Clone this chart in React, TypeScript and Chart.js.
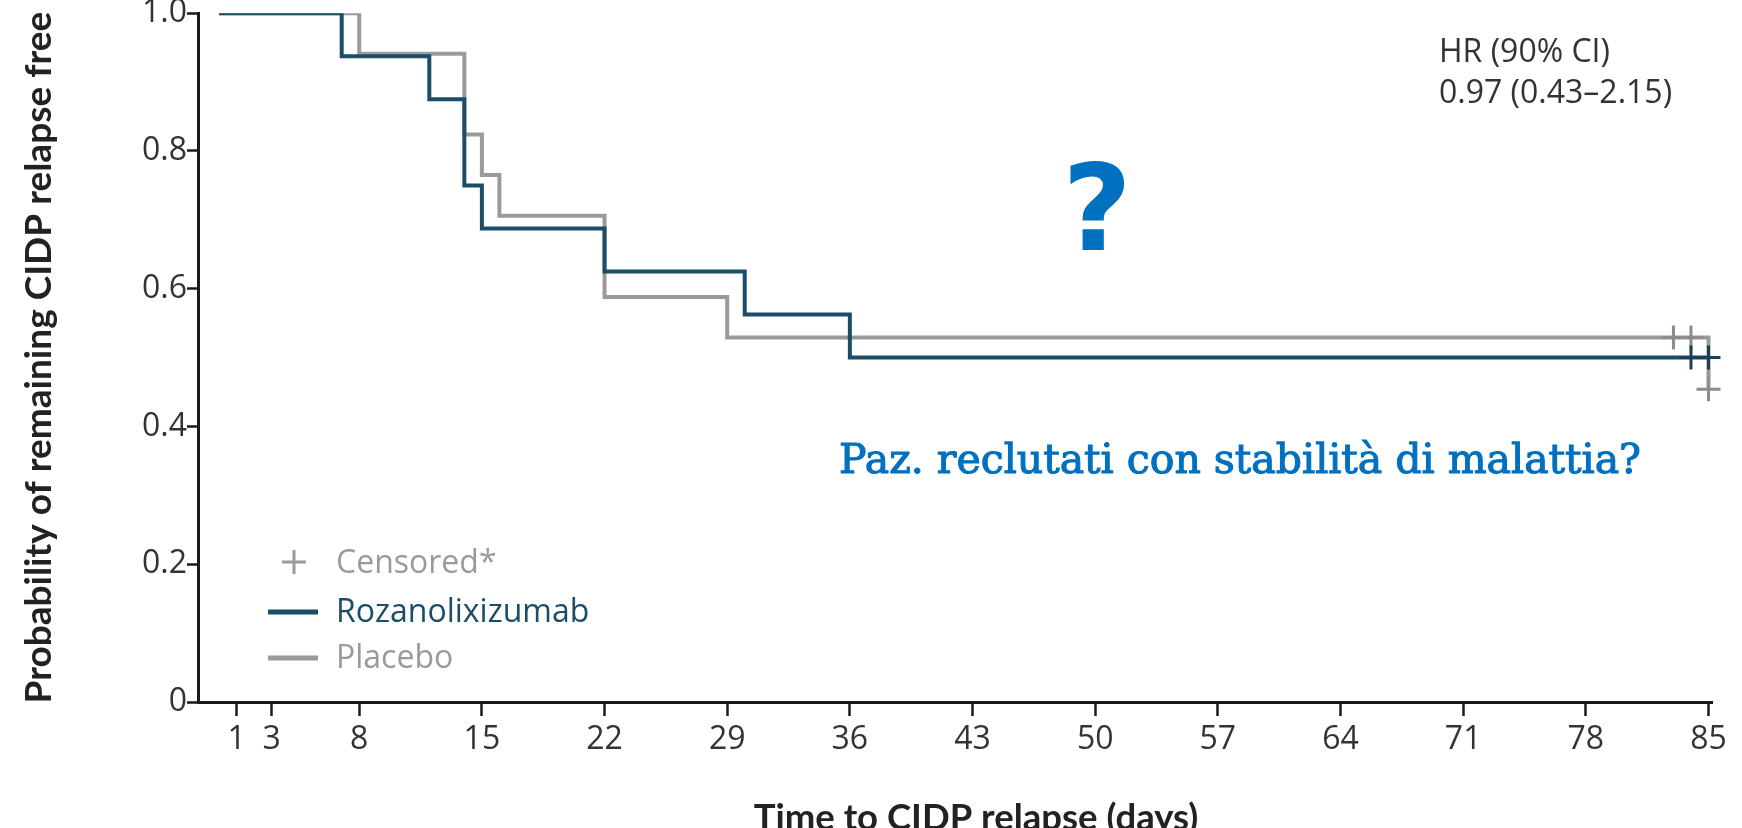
import React, { useEffect, useRef } from "react";
import { Chart, registerables } from "chart.js";

Chart.register(...registerables);

// ---- data ----
const xTickValues = [1, 3, 8, 15, 22, 29, 36, 43, 50, 57, 64, 71, 78, 85];
const yTickValues = [0, 0.2, 0.4, 0.6, 0.8, 1.0];

const rozaTimes = [0, 7, 12, 14, 15, 22, 30, 36, 85];
const rozaSurvival = [1, 0.9375, 0.875, 0.75, 0.6875, 0.625, 0.5625, 0.5, 0.5];
const placeboTimes = [0, 8, 14, 15, 16, 22, 29, 85];
const placeboSurvival = [1, 0.941, 0.824, 0.765, 0.706, 0.588, 0.529, 0.454];

const rozaCensorTimes = [84, 85];
const rozaCensorSurvival = [0.5, 0.5];
const placeboCensorTimes = [83, 84, 85];
const placeboCensorSurvival = [0.529, 0.529, 0.454];

const legendLabels = ["Censored*", "Rozanolixizumab", "Placebo"];
const hrLines = ["HR (90% CI)", "0.97 (0.43\u20132.15)"];
const questionText = "?";
const noteText = "Paz. reclutati con stabilit\u00e0 di malattia?";
const xTitle = "Time to CIDP relapse (days)";
const yTitle = "Probability of remaining CIDP relapse free";

// ---- styles ----
const ROZA = "#1b4d68";
const ROZA_CROSS = "#1d3f55";
const PLACEBO = "#9a9a9a";
const PLACEBO_CROSS = "#8c8c8c";
const AXIS = "#1a1a1a";
const TEXT = "#333333";
const BLUE = "#0070c0";
const SANS = "'Open Sans', sans-serif";
const TITLE_FONT = "Lato, sans-serif";

const W = 1742;
const H = 870;
const OFF = 6; // canvas y = page y + OFF
const AXIS_Y = 702; // page y of the x axis

const pts = (xs: number[], ys: number[]) => xs.map((x, i) => ({ x, y: ys[i] }));

const overlayPlugin = {
  id: "overlay",
  afterDraw(chart: any) {
    const ctx = chart.ctx;
    ctx.save();
    // Legend
    ctx.strokeStyle = PLACEBO;
    ctx.lineWidth = 3;
    ctx.beginPath();
    ctx.moveTo(282, 562 + OFF);
    ctx.lineTo(306, 562 + OFF);
    ctx.moveTo(294, 550 + OFF);
    ctx.lineTo(294, 574 + OFF);
    ctx.stroke();

    ctx.lineWidth = 5;
    ctx.strokeStyle = ROZA;
    ctx.beginPath();
    ctx.moveTo(268, 612 + OFF);
    ctx.lineTo(318, 612 + OFF);
    ctx.stroke();
    ctx.strokeStyle = PLACEBO;
    ctx.beginPath();
    ctx.moveTo(268, 658 + OFF);
    ctx.lineTo(318, 658 + OFF);
    ctx.stroke();

    ctx.font = `32px ${SANS}`;
    ctx.textAlign = "left";
    ctx.textBaseline = "alphabetic";
    ctx.fillStyle = PLACEBO;
    ctx.fillText(legendLabels[0], 336, 573 + OFF);
    ctx.fillStyle = ROZA;
    ctx.fillText(legendLabels[1], 336, 622 + OFF);
    ctx.fillStyle = PLACEBO;
    ctx.fillText(legendLabels[2], 336, 668 + OFF);

    // HR text
    ctx.fillStyle = TEXT;
    ctx.font = `32px ${SANS}`;
    ctx.fillText(hrLines[0], 1439, 62 + OFF);
    ctx.fillText(hrLines[1], 1439, 103 + OFF);

    // Question mark
    ctx.fillStyle = BLUE;
    ctx.font = `bold 120px 'DejaVu Sans', sans-serif`;
    ctx.textAlign = "center";
    ctx.fillText(questionText, 1097, 250 + OFF);

    // Note (slightly emboldened slab serif)
    ctx.font = `41px 'DejaVu Serif', serif`;
    ctx.textAlign = "left";
    ctx.strokeStyle = BLUE;
    ctx.lineWidth = 1.1;
    ctx.fillText(noteText, 839, 473 + OFF);
    ctx.strokeText(noteText, 839, 473 + OFF);

    // X title
    ctx.fillStyle = "#222";
    ctx.font = `bold 36.5px ${TITLE_FONT}`;
    ctx.textAlign = "center";
    ctx.fillText(xTitle, 976, 830 + OFF);
    ctx.restore();
  },
};

export default function App() {
  const ref = useRef<HTMLCanvasElement | null>(null);

  useEffect(() => {
    if (!ref.current) return;
    const chart = new Chart(ref.current, {
      type: "line",
      data: {
        datasets: [
          {
            label: "Rozanolixizumab censored",
            data: pts(rozaCensorTimes, rozaCensorSurvival),
            showLine: false,
            pointStyle: "cross",
            pointRadius: 12,
            pointBorderWidth: 3,
            pointBorderColor: ROZA_CROSS,
            borderColor: ROZA_CROSS,
            clip: false,
          } as any,
          {
            label: "Rozanolixizumab",
            data: pts(rozaTimes, rozaSurvival),
            stepped: "before",
            borderColor: ROZA,
            borderWidth: 4,
            borderJoinStyle: "miter",
            pointRadius: 0,
            fill: false,
          },
          {
            label: "Placebo censored",
            data: pts(placeboCensorTimes, placeboCensorSurvival),
            showLine: false,
            pointStyle: "cross",
            pointRadius: 12,
            pointBorderWidth: 3,
            pointBorderColor: PLACEBO_CROSS,
            borderColor: PLACEBO_CROSS,
            clip: false,
          } as any,
          {
            label: "Placebo",
            data: pts(placeboTimes, placeboSurvival),
            stepped: "before",
            borderColor: PLACEBO,
            borderWidth: 4,
            borderJoinStyle: "miter",
            pointRadius: 0,
            fill: false,
          },
        ],
      },
      options: {
        responsive: false,
        animation: false,
        devicePixelRatio: 1,
        layout: { padding: { left: 0, right: 30, top: 0, bottom: 0 } },
        plugins: { legend: { display: false }, tooltip: { enabled: false } },
        scales: {
          x: {
            type: "linear",
            min: -1.2,
            max: 85.2,
            afterFit: (s: any) => {
              s.height = H - (AXIS_Y + OFF);
              s.paddingLeft = 0;
              s.paddingRight = 0;
            },
            afterBuildTicks: (s: any) => {
              s.ticks = xTickValues.map((v) => ({ value: v }));
            },
            ticks: {
              font: { family: SANS, size: 32 },
              color: TEXT,
              padding: 5,
              maxRotation: 0,
              autoSkip: false,
              callback: (v: any) => String(v),
            },
            grid: {
              display: true,
              drawOnChartArea: false,
              drawTicks: true,
              tickLength: 14,
              tickWidth: 2.5,
              tickColor: AXIS,
              color: AXIS,
            },
            border: { display: true, color: AXIS, width: 3 },
          },
          y: {
            type: "linear",
            min: 0,
            max: 1,
            afterFit: (s: any) => {
              s.width = 198;
            },
            afterBuildTicks: (s: any) => {
              s.ticks = yTickValues.map((v) => ({ value: v }));
            },
            ticks: {
              font: { family: SANS, size: 32 },
              color: TEXT,
              padding: 0,
              callback: (v: any) => (Number(v) === 0 ? "0" : Number(v).toFixed(1)),
            },
            grid: {
              display: true,
              drawOnChartArea: false,
              drawTicks: true,
              tickLength: 11,
              tickWidth: 2.5,
              tickColor: AXIS,
              color: AXIS,
            },
            border: { display: true, color: AXIS, width: 3 },
            title: {
              display: true,
              text: yTitle,
              color: "#222",
              font: { family: TITLE_FONT, size: 37, weight: "bold" },
              padding: { top: 17, bottom: 0 },
            },
          },
        },
      },
      plugins: [overlayPlugin],
    });
    return () => chart.destroy();
  }, []);

  return (
    <div
      style={{
        position: "fixed",
        left: 0,
        top: -OFF,
        width: W,
        height: H,
        background: "#fff",
        overflow: "hidden",
      }}
    >
      <canvas ref={ref} width={W} height={H} style={{ display: "block", width: W, height: H }} />
    </div>
  );
}
